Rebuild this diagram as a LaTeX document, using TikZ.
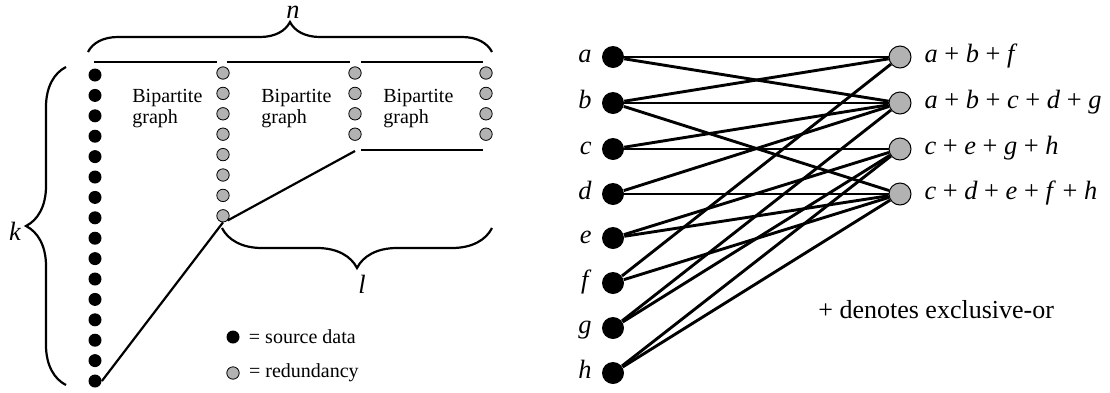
\documentclass[tikz,border=0pt]{standalone}
\usepackage{fontspec}
\setmainfont{Liberation Serif}
\usetikzlibrary{decorations.pathreplacing, positioning, calc}

\begin{document}
\begin{tikzpicture}
[
    x=0.5pt, y=-0.5pt,
    src/.style={circle, fill=black, inner sep=0pt, minimum size=6.5pt},
    redund/.style={circle, draw=black, line width=0.4pt, fill=gray!60, inner sep=0pt, minimum size=6.2pt},
    datanode/.style={circle, fill=black, inner sep=0pt, minimum size=11pt},
    paritynode/.style={circle, draw=black, line width=0.5pt, fill=gray!60, inner sep=0pt, minimum size=11pt},
    lab/.style={font=\fontsize{13.2}{16}\selectfont, text height=1.5ex, text depth=0.3ex},
    small/.style={font=\fontsize{10}{10.5}\selectfont},
    edge/.style={line width=1.45pt},
    rule/.style={line width=1.1pt},
    brace/.style={line width=1.1pt, decorate, decoration={brace, amplitude=#1}}
]
\useasboundingbox (0,0) rectangle (1110,392);

% Left: the cascade of bipartite graphs
\foreach \i in {1,...,16}
    \node[src] (s\i) at (95,{75+20.4*(\i-1)}) {};
\foreach \i in {1,...,8}
    \node[redund] (ra\i) at (223,{73+20.4*(\i-1)}) {};
\foreach \i in {1,...,4}
{
    \node[redund] (rb\i) at (355,{73+20.4*(\i-1)}) {};
    \node[redund] (rc\i) at (486,{73+20.4*(\i-1)}) {};
}

\node[small, align=left, anchor=north west, inner sep=0pt] (bg1) at (132,89) {Bipartite\\graph};
\node[small, align=left, anchor=north west, inner sep=0pt] (bg2) at (261,89) {Bipartite\\graph};
\node[small, align=left, anchor=north west, inner sep=0pt] (bg3) at (383,89) {Bipartite\\graph};

% Rules over the stages
\draw[rule] (94,62) -- (217,62);
\draw[rule] (227,62) -- (350,62);
\draw[rule] (361,62) -- (483,62);
\draw[rule] (361,150) -- (483,150);

% Lines into the next stage
\coordinate (cut) at (355,151);
\draw[rule] (ra8.south east) -- (cut);
\draw[rule] (ra8.south) -- (s16.east);

% Braces
\draw[brace=15pt] (88,52) -- (492,52);
\draw[brace=20pt] (66,385) -- (66,67);
\draw[brace=20pt] (492,228) -- (222,228);
\node[lab, font=\fontsize{13.2}{16}\selectfont\itshape] (n) at (293,13) {n};
\node[lab, font=\fontsize{13.2}{16}\selectfont\itshape] (k) at (15,235) {k};
\node[lab, font=\fontsize{13.2}{16}\selectfont\itshape] (l) at (362,288) {l};

% Key
\node[src] (keysrc) at (233,337) {};
\node[small, right=1pt of keysrc] (keysrctext) {= source data};
\node[redund] (keyred) at (233,373) {};
\node[small, right=1.2pt of keyred] (keyredtext) {= redundancy};

% Right: one bipartite graph
\foreach \v/\y in {a/57, b/103, c/149, d/194, e/238, f/283, g/328, h/373}
    \node[datanode, label={[lab, label distance=1.5pt]left:\textit{\v}}] (\v) at (613,\y) {};

\node[paritynode, label={[lab, label distance=3pt]right:{\textit{a} + \textit{b} + \textit{f}}}] (p1) at (900,57) {};
\node[paritynode, label={[lab, label distance=3pt]right:{\textit{a} + \textit{b} + \textit{c} + \textit{d} + \textit{g}}}] (p2) at (900,103) {};
\node[paritynode, label={[lab, label distance=3pt]right:{\textit{c} + \textit{e} + \textit{g} + \textit{h}}}] (p3) at (900,149) {};
\node[paritynode, label={[lab, label distance=3pt]right:{\textit{c} + \textit{d} + \textit{e} + \textit{f} + \textit{h}}}] (p4) at (900,194) {};

\foreach \u/\w in {a/p1, a/p2, b/p1, b/p2, b/p4, c/p2, c/p3, d/p2, d/p4,
                   e/p3, e/p4, f/p1, f/p4, g/p2, g/p3, h/p3, h/p4}
    \draw[edge] (\u) -- (\w);

\node[font=\fontsize{13}{15}\selectfont, anchor=base west, inner sep=0pt] (xornote) at (818,318) {+ denotes exclusive-or};

\end{tikzpicture}
\end{document}
